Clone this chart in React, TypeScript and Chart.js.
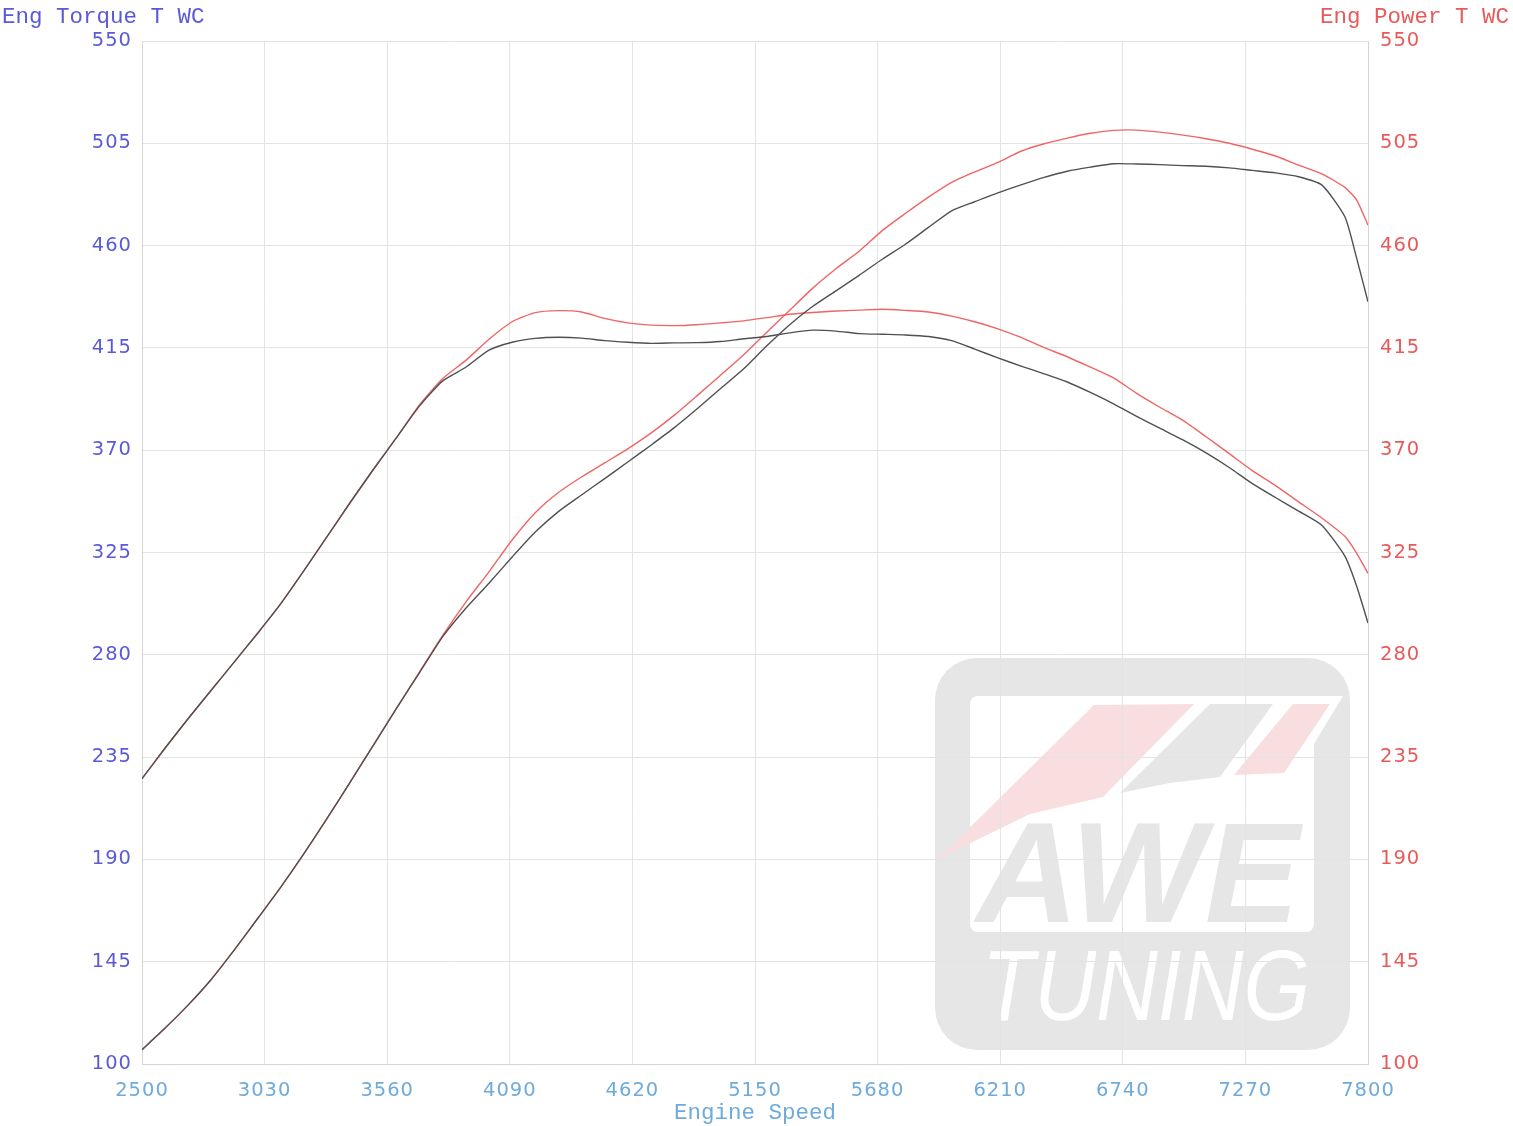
import React, { useEffect, useRef } from "react";
import { Chart, registerables } from "chart.js";

Chart.register(...registerables);

// ---------- data ----------
const rpm = [
  2500, 2600, 2700, 2800, 2900, 3000, 3100, 3200, 3300, 3400, 3500, 3600, 3700, 3800,
  3900, 4000, 4100, 4200, 4300, 4400, 4500, 4600, 4700, 4800, 4900, 5000, 5100, 5200,
  5300, 5400, 5500, 5600, 5700, 5800, 5900, 6000, 6100, 6200, 6300, 6400, 6500, 6600,
  6700, 6800, 6900, 7000, 7100, 7200, 7300, 7400, 7500, 7600, 7700, 7750, 7800,
];

const torqueBlack = [
  225.5, 239, 252, 264.5, 277, 289.5, 302.5, 317, 332, 347, 361.5, 375.5, 389.5, 400.5,
  406.5, 414, 417.5, 419.2, 419.7, 419.3, 418.2, 417.5, 417, 417.2, 417.3, 417.8, 419, 420,
  421.6, 422.8, 422.4, 421.3, 421, 420.7, 420, 418.2, 414.5, 410.6, 407, 403.6, 400, 395.4,
  390.4, 384.9, 379.7, 374.5, 368.8, 362.4, 355.3, 349.2, 343.2, 337, 323.4, 310.5, 294,
];

const torqueRed = [
  225.5, 239, 252, 264.5, 277, 289.5, 302.5, 317, 332, 347, 361.5, 375.5, 390, 401.5,
  409.5, 418.8, 426.5, 430.5, 431.4, 430.8, 428, 426, 425, 424.8, 425.2, 426, 426.9, 428.3,
  429.8, 430.6, 431.2, 431.6, 432, 431.5, 430.8, 429, 426.5, 423.4, 419.6, 415.1, 411.1, 406.5,
  401.8, 395, 388.9, 383.1, 375.9, 368.5, 361, 354.4, 347.3, 340.2, 332.1, 324.8, 315.8,
];

const powerBlack = [
  106.3, 115.8, 126, 137.3, 150.3, 164, 177.8, 192.5, 208, 224, 240.2, 256.4, 272.2, 288,
  300.5, 311.5, 323, 334, 343, 350.3, 357.5, 364.8, 372.2, 379.8, 388.2, 397, 405.7, 415.8,
  425.2, 433.3, 440.1, 446.9, 454, 460.6, 468, 475.3, 479.3, 483.2, 486.7, 490, 492.7, 494.5,
  496, 495.9, 495.6, 495.2, 494.9, 494.2, 493.1, 492, 490.3, 486.7, 472.7, 454.8, 435.3,
];

const powerRed = [
  106.3, 115.8, 126, 137.3, 150.3, 164, 177.8, 192.5, 208, 224, 240.2, 256.4, 272.5, 288.5,
  303.2, 316.5, 330.5, 342.5, 351.4, 358.2, 364.4, 370.6, 377.5, 385.3, 394, 402.9, 411.9, 421.8,
  431.6, 441.3, 449.8, 457.5, 466.6, 474.1, 481.3, 487.8, 492.4, 496.6, 501.5, 504.8, 507.3, 509.4,
  510.7, 510.8, 509.9, 508.6, 507, 505, 502.4, 499.4, 495.4, 491.6, 485.6, 480.2, 469,
];

const xTicks = [2500, 3030, 3560, 4090, 4620, 5150, 5680, 6210, 6740, 7270, 7800];
const yTicks = [100, 145, 190, 235, 280, 325, 370, 415, 460, 505, 550];

const leftTitle = "Eng Torque T WC";
const rightTitle = "Eng Power T WC";
const xTitle = "Engine Speed";

// ---------- colours ----------
const BLUE = "#5a5ad8";
const RED_TXT = "#e85a5a";
const XBLUE = "#6eaadc";
const GRID = "#e3e3e3";
const LINE_RED = "#f06464";
const LINE_BLACK = "#505050";

function pts(vals: number[]) {
  return rpm.map((r, i) => ({ x: r, y: vals[i] }));
}

function poly(ctx: CanvasRenderingContext2D, p: number[][], fill: string) {
  ctx.beginPath();
  ctx.moveTo(p[0][0], p[0][1]);
  for (let i = 1; i < p.length; i++) ctx.lineTo(p[i][0], p[i][1]);
  ctx.closePath();
  ctx.fillStyle = fill;
  ctx.fill();
}

function rrect(ctx: CanvasRenderingContext2D, x: number, y: number, w: number, h: number, r: number, fill: string) {
  ctx.beginPath();
  ctx.moveTo(x + r, y);
  ctx.lineTo(x + w - r, y);
  ctx.arcTo(x + w, y, x + w, y + r, r);
  ctx.lineTo(x + w, y + h - r);
  ctx.arcTo(x + w, y + h, x + w - r, y + h, r);
  ctx.lineTo(x + r, y + h);
  ctx.arcTo(x, y + h, x, y + h - r, r);
  ctx.lineTo(x, y + r);
  ctx.arcTo(x, y, x + r, y, r);
  ctx.closePath();
  ctx.fillStyle = fill;
  ctx.fill();
}

const watermarkPlugin = {
  id: "watermark",
  beforeDraw(chart: any) {
    const ctx: any = chart.ctx;
    ctx.save();
    const gray = "#e6e6e6";
    rrect(ctx, 935, 658, 415, 392, 42, gray);
    rrect(ctx, 970, 696, 344, 236, 8, "#ffffff");
    poly(ctx, [[1282, 696], [1343, 696], [1292, 780], [1232, 780]], "#ffffff");
    // swoosh stripes
    poly(ctx, [[936, 861], [1094, 705], [1194, 704], [1103, 797], [1030, 814], [952, 852]], "#f8dede");
    poly(ctx, [[1120, 793], [1210, 704], [1273, 704], [1220, 777], [1170, 783]], gray);
    poly(ctx, [[1234, 775], [1293, 704], [1330, 704], [1284, 773]], "#f8dede");
    // AWE letters
    ctx.fillStyle = gray;
    ctx.font = 'italic bold 142px "Liberation Sans", Arial, sans-serif';
    ctx.textAlign = "left";
    ctx.textBaseline = "alphabetic";
    ctx.fillText("AWE", 976, 922, 334);
    // TUNING
    ctx.fillStyle = "#ffffff";
    ctx.font = 'italic 100px "Liberation Sans", Arial, sans-serif';
    ctx.fillText("TUNING", 982, 1020, 328);
    ctx.restore();
    // slightly spaced tick labels like the reference
    ctx.letterSpacing = "1px";
  },
  afterDraw(chart: any) {
    const ctx: any = chart.ctx;
    ctx.save();
    ctx.letterSpacing = "0px";
    ctx.font = '22.5px "Courier New", "Liberation Mono", monospace';
    ctx.textBaseline = "middle";
    ctx.fillStyle = BLUE;
    ctx.textAlign = "left";
    ctx.fillText(leftTitle, 2, 17);
    ctx.fillStyle = RED_TXT;
    ctx.textAlign = "right";
    ctx.fillText(rightTitle, 1509, 17);
    ctx.fillStyle = XBLUE;
    ctx.textAlign = "center";
    ctx.fillText(xTitle, 755, 1113);
    ctx.restore();
    ctx.letterSpacing = "0px";
  },
};

const tickFont = { family: '"DejaVu Sans", Verdana, sans-serif', size: 19.5 };

export default function App() {
  const ref = useRef<HTMLCanvasElement | null>(null);

  useEffect(() => {
    if (!ref.current) return;
    const chart = new Chart(ref.current, {
      type: "line",
      data: {
        datasets: [
          { label: "Torque B", data: pts(torqueBlack), borderColor: LINE_BLACK, yAxisID: "y" },
          { label: "Power B", data: pts(powerBlack), borderColor: LINE_BLACK, yAxisID: "y2" },
          { label: "Torque R", data: pts(torqueRed), borderColor: LINE_RED, yAxisID: "y" },
          { label: "Power R", data: pts(powerRed), borderColor: LINE_RED, yAxisID: "y2" },
        ].map((d) => ({ ...d, borderWidth: 1.4, pointRadius: 0, tension: 0.2, fill: false })),
      },
      options: {
        animation: false,
        responsive: false,
        maintainAspectRatio: false,
        layout: { padding: { top: 41, left: 0, right: 0, bottom: 0 } },
        plugins: {
          legend: { display: false },
          tooltip: { enabled: false },
          title: { display: false },
        },
        scales: {
          x: {
            type: "linear",
            min: 2500,
            max: 7800,
            afterBuildTicks: (s: any) => {
              s.ticks = xTicks.map((v) => ({ value: v }));
            },
            afterFit: (s: any) => {
              s.height = 62;
            },
            grid: { color: GRID, drawTicks: false, lineWidth: 1 },
            border: { color: "#d4d4d4", width: 1 },
            ticks: {
              color: XBLUE,
              font: tickFont,
              padding: 15,
              maxRotation: 0,
              autoSkip: false,
              callback: (v: any) => String(v),
            },
          },
          y: {
            type: "linear",
            position: "left",
            min: 100,
            max: 550,
            afterBuildTicks: (s: any) => {
              s.ticks = yTicks.map((v) => ({ value: v }));
            },
            afterFit: (s: any) => {
              s.width = 142;
            },
            grid: { color: GRID, drawTicks: false, lineWidth: 1 },
            border: { color: "#d4d4d4", width: 1 },
            ticks: {
              color: BLUE,
              font: tickFont,
              padding: 10,
              autoSkip: false,
              callback: (v: any) => String(v),
            },
          },
          y2: {
            type: "linear",
            position: "right",
            min: 100,
            max: 550,
            afterBuildTicks: (s: any) => {
              s.ticks = yTicks.map((v) => ({ value: v }));
            },
            afterFit: (s: any) => {
              s.width = 145;
            },
            grid: { drawOnChartArea: false, drawTicks: false },
            border: { color: "#d4d4d4", width: 1 },
            ticks: {
              color: RED_TXT,
              font: tickFont,
              padding: 12,
              autoSkip: false,
              callback: (v: any) => String(v),
            },
          },
        },
      } as any,
      plugins: [watermarkPlugin],
    });
    return () => chart.destroy();
  }, []);

  return (
    <div style={{ position: "absolute", left: 0, top: 0, width: 1513, height: 1126, background: "#ffffff" }}>
      <canvas ref={ref} width={1513} height={1126} />
    </div>
  );
}
